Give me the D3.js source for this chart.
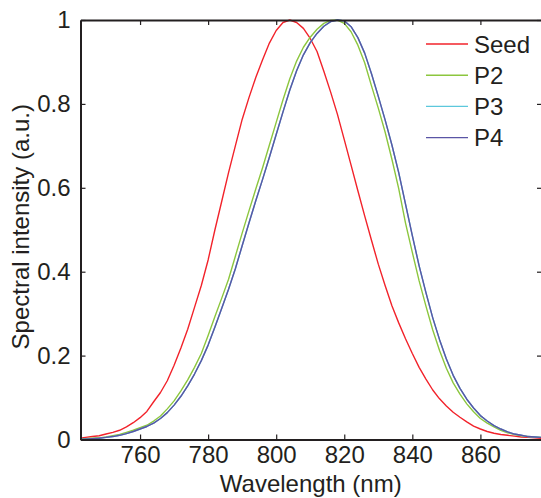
<!DOCTYPE html>
<html>
<head>
<meta charset="utf-8">
<script src="https://cdn.jsdelivr.net/npm/d3@7"></script>
<style>
  html, body { margin: 0; padding: 0; background: #fff; overflow: hidden; }
  svg { display: block; }
  text { font-family: "Liberation Sans", Arial, Helvetica, sans-serif; fill: #231f20; }
</style>
</head>
<body>
<svg id="chart" width="541" height="498"></svg>
<script>
// ---- data ----
const wavelength = [742,744,746,748,750,752,754,756,758,760,762,764,766,768,770,772,774,776,778,780,
  782,784,786,788,790,792,794,796,798,800,802,804,806,808,810,812,814,816,818,820,
  822,824,826,828,830,832,834,836,838,840,842,844,846,848,850,852,854,856,858,860,
  862,864,866,868,870,872,874,876,878];

const seed = [0.003,0.005,0.007,0.009,0.013,0.017,0.022,0.030,0.040,0.052,0.067,0.090,0.112,0.140,0.177,0.218,0.263,0.315,0.367,0.428,
  0.500,0.568,0.636,0.700,0.763,0.815,0.863,0.905,0.945,0.975,0.994,1.000,0.994,0.980,0.956,0.925,0.878,0.828,0.775,0.715,
  0.654,0.593,0.533,0.475,0.418,0.367,0.319,0.278,0.240,0.205,0.172,0.144,0.118,0.097,0.080,0.065,0.053,0.042,0.032,0.025,
  0.019,0.015,0.012,0.010,0.008,0.006,0.005,0.004,0.003];

const p2 = [0.001,0.002,0.003,0.004,0.006,0.009,0.012,0.017,0.022,0.028,0.034,0.044,0.056,0.073,0.092,0.116,0.142,0.172,0.205,0.248,
  0.293,0.337,0.382,0.437,0.492,0.545,0.597,0.648,0.702,0.756,0.810,0.860,0.902,0.935,0.959,0.978,0.992,0.999,1.000,0.992,
  0.972,0.940,0.898,0.843,0.790,0.733,0.668,0.598,0.516,0.446,0.378,0.318,0.261,0.212,0.170,0.135,0.108,0.085,0.066,0.050,
  0.039,0.030,0.022,0.016,0.012,0.009,0.007,0.006,0.005];

const p3 = [0.001,0.001,0.002,0.003,0.005,0.007,0.010,0.014,0.019,0.025,0.031,0.039,0.050,0.064,0.082,0.103,0.128,0.156,0.188,0.225,
  0.268,0.313,0.358,0.407,0.462,0.516,0.569,0.620,0.673,0.727,0.781,0.833,0.879,0.917,0.946,0.968,0.985,0.996,1.000,0.998,
  0.984,0.958,0.921,0.872,0.818,0.762,0.702,0.636,0.561,0.486,0.414,0.350,0.290,0.238,0.192,0.153,0.122,0.096,0.075,0.057,
  0.044,0.033,0.025,0.018,0.013,0.010,0.007,0.006,0.005];

const p4 = [0.001,0.001,0.002,0.003,0.005,0.007,0.010,0.014,0.019,0.025,0.031,0.039,0.050,0.064,0.082,0.103,0.128,0.156,0.188,0.225,
  0.268,0.313,0.358,0.407,0.462,0.516,0.569,0.620,0.673,0.727,0.781,0.833,0.879,0.917,0.946,0.968,0.985,0.996,1.000,0.998,
  0.984,0.958,0.921,0.872,0.818,0.762,0.702,0.636,0.561,0.486,0.414,0.350,0.290,0.238,0.192,0.153,0.122,0.096,0.075,0.057,
  0.044,0.033,0.025,0.018,0.013,0.010,0.007,0.006,0.005];

const seriesNames = ["Seed", "P2", "P3", "P4"];
const seriesColors = ["#f2232b", "#8cc63e", "#5cc8dc", "#5a55a5"];
const xTicks = [760, 780, 800, 820, 840, 860];
const yTicks = [0, 0.2, 0.4, 0.6, 0.8, 1];
const yTickLabels = ["0", "0.2", "0.4", "0.6", "0.8", "1"];
const xLabel = "Wavelength (nm)";
const yLabel = "Spectral intensity (a.u.)";

// ---- layout ----
const svg = d3.select("#chart");
const L = 80.5, R = 542, T = 20, B = 439.5;
const axisColor = "#231f20";
const x = d3.scaleLinear().domain([742.5, 878.1]).range([L, R]);
const y = d3.scaleLinear().domain([0, 1]).range([B, T]);

const seriesData = [seed, p2, p3, p4];

// clip
svg.append("defs").append("clipPath").attr("id", "clip")
  .append("rect").attr("x", L).attr("y", T - 2).attr("width", R - L).attr("height", B - T + 2);

const line = d3.line().x((d, i) => x(wavelength[i])).y(d => y(d));

const plot = svg.append("g").attr("clip-path", "url(#clip)");
seriesData.forEach((s, k) => {
  plot.append("path").datum(s)
    .attr("d", line)
    .attr("fill", "none")
    .attr("stroke", seriesColors[k])
    .attr("stroke-width", 1.4)
    .attr("stroke-linejoin", "round");
});

// axes (box with inward ticks)
const tickLen = 5;
const gAx = svg.append("g");
gAx.append("g").attr("transform", `translate(0,${B})`)
  .call(d3.axisBottom(x).tickValues(xTicks).tickSizeInner(-tickLen).tickSizeOuter(0).tickPadding(6).tickFormat(d3.format("d")))
  .call(g => {
    g.select(".domain").attr("stroke", axisColor).attr("stroke-width", 2);
    g.selectAll(".tick line").attr("stroke", axisColor).attr("stroke-width", 1.2);
    g.selectAll(".tick text").attr("font-size", 24).attr("fill", axisColor)
      .attr("font-family", "Liberation Sans, Arial, sans-serif").attr("dy", "0.72em");
  });
gAx.append("g").attr("transform", `translate(0,${T})`)
  .call(d3.axisTop(x).tickValues(xTicks).tickSizeInner(-tickLen).tickSizeOuter(0).tickFormat(""))
  .call(g => {
    g.select(".domain").attr("stroke", axisColor).attr("stroke-width", 2);
    g.selectAll(".tick line").attr("stroke", axisColor).attr("stroke-width", 1.2);
  });
gAx.append("g").attr("transform", `translate(${L},0)`)
  .call(d3.axisLeft(y).tickValues(yTicks).tickSizeInner(-tickLen).tickSizeOuter(0).tickPadding(10)
    .tickFormat((d, i) => yTickLabels[i]))
  .call(g => {
    g.select(".domain").attr("stroke", axisColor).attr("stroke-width", 2);
    g.selectAll(".tick line").attr("stroke", axisColor).attr("stroke-width", 1.2);
    g.selectAll(".tick text").attr("font-size", 24).attr("fill", axisColor)
      .attr("font-family", "Liberation Sans, Arial, sans-serif");
  });
gAx.append("g").attr("transform", `translate(${R},0)`)
  .call(d3.axisRight(y).tickValues(yTicks).tickSizeInner(-tickLen).tickSizeOuter(0).tickFormat(""))
  .call(g => {
    g.select(".domain").attr("stroke", axisColor).attr("stroke-width", 2);
    g.selectAll(".tick line").attr("stroke", axisColor).attr("stroke-width", 1.2);
  });

// axis titles
svg.append("text")
  .attr("x", (L + 541) / 2).attr("y", 492)
  .attr("text-anchor", "middle").attr("font-size", 24)
  .text(xLabel);
svg.append("text")
  .attr("transform", `translate(29,${(T + B) / 2 - 3}) rotate(-90)`)
  .attr("text-anchor", "middle").attr("font-size", 24)
  .text(yLabel);

// legend
const lg = svg.append("g");
seriesNames.forEach((name, k) => {
  const ly = 44 + k * 31.2;
  lg.append("line").attr("x1", 426).attr("x2", 468).attr("y1", ly).attr("y2", ly)
    .attr("stroke", seriesColors[k]).attr("stroke-width", 1.4);
  lg.append("text").attr("x", 474).attr("y", ly).attr("dy", "0.36em")
    .attr("font-size", 24).text(name);
});
</script>
</body>
</html>
